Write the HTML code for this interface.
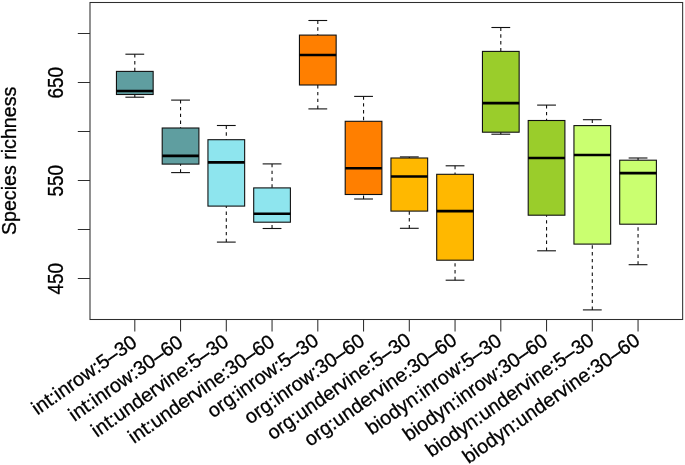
<!DOCTYPE html>
<html lang="en">
<head>
<meta charset="utf-8">
<title>Species richness boxplot</title>
<style>
html,body{margin:0;padding:0;background:#fff;}
body{width:685px;height:465px;overflow:hidden;}
svg{display:block;will-change:transform;}
svg text{font-family:"Liberation Sans",Arial,Helvetica,sans-serif;font-size:19.74px;fill:#000;stroke:#000;stroke-width:0.3px;}
</style>
</head>
<body>
<svg width="685" height="465" viewBox="0 0 685 465">
<rect x="0" y="0" width="685" height="465" fill="#ffffff"/>

<g stroke="#111" stroke-width="1.1" fill="none">
<line x1="134.80" y1="54.20" x2="134.80" y2="71.40" stroke-dasharray="3.4 3.4"/>
<line x1="134.80" y1="97.20" x2="134.80" y2="94.50" stroke-dasharray="3.4 3.4"/>
<line x1="125.40" y1="54.20" x2="144.20" y2="54.20"/>
<line x1="125.40" y1="97.20" x2="144.20" y2="97.20"/>
<rect x="116.45" y="71.40" width="36.70" height="23.10" fill="#5F9EA0"/>
<line x1="116.45" y1="91.00" x2="153.15" y2="91.00" stroke="#000" stroke-width="2.6"/>
<line x1="180.55" y1="100.10" x2="180.55" y2="128.00" stroke-dasharray="3.4 3.4"/>
<line x1="180.55" y1="172.60" x2="180.55" y2="164.10" stroke-dasharray="3.4 3.4"/>
<line x1="171.15" y1="100.10" x2="189.95" y2="100.10"/>
<line x1="171.15" y1="172.60" x2="189.95" y2="172.60"/>
<rect x="162.20" y="128.00" width="36.70" height="36.10" fill="#5F9EA0"/>
<line x1="162.20" y1="155.90" x2="198.90" y2="155.90" stroke="#000" stroke-width="2.6"/>
<line x1="226.30" y1="125.50" x2="226.30" y2="139.70" stroke-dasharray="3.4 3.4"/>
<line x1="226.30" y1="242.10" x2="226.30" y2="206.10" stroke-dasharray="3.4 3.4"/>
<line x1="216.90" y1="125.50" x2="235.70" y2="125.50"/>
<line x1="216.90" y1="242.10" x2="235.70" y2="242.10"/>
<rect x="207.95" y="139.70" width="36.70" height="66.40" fill="#8EE5EE"/>
<line x1="207.95" y1="162.40" x2="244.65" y2="162.40" stroke="#000" stroke-width="2.6"/>
<line x1="272.05" y1="163.90" x2="272.05" y2="187.90" stroke-dasharray="3.4 3.4"/>
<line x1="272.05" y1="228.50" x2="272.05" y2="222.20" stroke-dasharray="3.4 3.4"/>
<line x1="262.65" y1="163.90" x2="281.45" y2="163.90"/>
<line x1="262.65" y1="228.50" x2="281.45" y2="228.50"/>
<rect x="253.70" y="187.90" width="36.70" height="34.30" fill="#8EE5EE"/>
<line x1="253.70" y1="213.80" x2="290.40" y2="213.80" stroke="#000" stroke-width="2.6"/>
<line x1="317.80" y1="20.50" x2="317.80" y2="35.10" stroke-dasharray="3.4 3.4"/>
<line x1="317.80" y1="108.90" x2="317.80" y2="85.00" stroke-dasharray="3.4 3.4"/>
<line x1="308.40" y1="20.50" x2="327.20" y2="20.50"/>
<line x1="308.40" y1="108.90" x2="327.20" y2="108.90"/>
<rect x="299.45" y="35.10" width="36.70" height="49.90" fill="#FF7F00"/>
<line x1="299.45" y1="55.00" x2="336.15" y2="55.00" stroke="#000" stroke-width="2.6"/>
<line x1="363.55" y1="96.40" x2="363.55" y2="121.30" stroke-dasharray="3.4 3.4"/>
<line x1="363.55" y1="199.00" x2="363.55" y2="194.50" stroke-dasharray="3.4 3.4"/>
<line x1="354.15" y1="96.40" x2="372.95" y2="96.40"/>
<line x1="354.15" y1="199.00" x2="372.95" y2="199.00"/>
<rect x="345.20" y="121.30" width="36.70" height="73.20" fill="#FF7F00"/>
<line x1="345.20" y1="168.20" x2="381.90" y2="168.20" stroke="#000" stroke-width="2.6"/>
<line x1="409.30" y1="156.90" x2="409.30" y2="158.00" stroke-dasharray="3.4 3.4"/>
<line x1="409.30" y1="228.30" x2="409.30" y2="211.10" stroke-dasharray="3.4 3.4"/>
<line x1="399.90" y1="156.90" x2="418.70" y2="156.90"/>
<line x1="399.90" y1="228.30" x2="418.70" y2="228.30"/>
<rect x="390.95" y="158.00" width="36.70" height="53.10" fill="#FFB800"/>
<line x1="390.95" y1="176.50" x2="427.65" y2="176.50" stroke="#000" stroke-width="2.6"/>
<line x1="455.05" y1="165.80" x2="455.05" y2="174.30" stroke-dasharray="3.4 3.4"/>
<line x1="455.05" y1="280.20" x2="455.05" y2="260.20" stroke-dasharray="3.4 3.4"/>
<line x1="445.65" y1="165.80" x2="464.45" y2="165.80"/>
<line x1="445.65" y1="280.20" x2="464.45" y2="280.20"/>
<rect x="436.70" y="174.30" width="36.70" height="85.90" fill="#FFB800"/>
<line x1="436.70" y1="211.10" x2="473.40" y2="211.10" stroke="#000" stroke-width="2.6"/>
<line x1="500.80" y1="27.50" x2="500.80" y2="51.40" stroke-dasharray="3.4 3.4"/>
<line x1="500.80" y1="134.20" x2="500.80" y2="132.20" stroke-dasharray="3.4 3.4"/>
<line x1="491.40" y1="27.50" x2="510.20" y2="27.50"/>
<line x1="491.40" y1="134.20" x2="510.20" y2="134.20"/>
<rect x="482.45" y="51.40" width="36.70" height="80.80" fill="#9ACD2B"/>
<line x1="482.45" y1="103.10" x2="519.15" y2="103.10" stroke="#000" stroke-width="2.6"/>
<line x1="546.55" y1="105.10" x2="546.55" y2="120.50" stroke-dasharray="3.4 3.4"/>
<line x1="546.55" y1="250.80" x2="546.55" y2="215.20" stroke-dasharray="3.4 3.4"/>
<line x1="537.15" y1="105.10" x2="555.95" y2="105.10"/>
<line x1="537.15" y1="250.80" x2="555.95" y2="250.80"/>
<rect x="528.20" y="120.50" width="36.70" height="94.70" fill="#9ACD2B"/>
<line x1="528.20" y1="158.00" x2="564.90" y2="158.00" stroke="#000" stroke-width="2.6"/>
<line x1="592.30" y1="119.70" x2="592.30" y2="125.60" stroke-dasharray="3.4 3.4"/>
<line x1="592.30" y1="309.90" x2="592.30" y2="244.10" stroke-dasharray="3.4 3.4"/>
<line x1="582.90" y1="119.70" x2="601.70" y2="119.70"/>
<line x1="582.90" y1="309.90" x2="601.70" y2="309.90"/>
<rect x="573.95" y="125.60" width="36.70" height="118.50" fill="#CAFF70"/>
<line x1="573.95" y1="155.00" x2="610.65" y2="155.00" stroke="#000" stroke-width="2.6"/>
<line x1="638.05" y1="158.00" x2="638.05" y2="160.20" stroke-dasharray="3.4 3.4"/>
<line x1="638.05" y1="264.70" x2="638.05" y2="224.20" stroke-dasharray="3.4 3.4"/>
<line x1="628.65" y1="158.00" x2="647.45" y2="158.00"/>
<line x1="628.65" y1="264.70" x2="647.45" y2="264.70"/>
<rect x="619.70" y="160.20" width="36.70" height="64.00" fill="#CAFF70"/>
<line x1="619.70" y1="173.10" x2="656.40" y2="173.10" stroke="#000" stroke-width="2.6"/>
</g>
<g stroke="#2e2e2e" stroke-width="1.05" fill="none">
<rect x="90.0" y="2.5" width="592.65" height="317.0"/>
<line x1="77.8" y1="33.5" x2="90" y2="33.5"/>
<line x1="77.8" y1="82.5" x2="90" y2="82.5"/>
<line x1="77.8" y1="131.5" x2="90" y2="131.5"/>
<line x1="77.8" y1="180.5" x2="90" y2="180.5"/>
<line x1="77.8" y1="229.5" x2="90" y2="229.5"/>
<line x1="77.8" y1="278.5" x2="90" y2="278.5"/>
<line x1="134.80" y1="319.5" x2="134.80" y2="331.4"/>
<line x1="180.55" y1="319.5" x2="180.55" y2="331.4"/>
<line x1="226.30" y1="319.5" x2="226.30" y2="331.4"/>
<line x1="272.05" y1="319.5" x2="272.05" y2="331.4"/>
<line x1="317.80" y1="319.5" x2="317.80" y2="331.4"/>
<line x1="363.55" y1="319.5" x2="363.55" y2="331.4"/>
<line x1="409.30" y1="319.5" x2="409.30" y2="331.4"/>
<line x1="455.05" y1="319.5" x2="455.05" y2="331.4"/>
<line x1="500.80" y1="319.5" x2="500.80" y2="331.4"/>
<line x1="546.55" y1="319.5" x2="546.55" y2="331.4"/>
<line x1="592.30" y1="319.5" x2="592.30" y2="331.4"/>
<line x1="638.05" y1="319.5" x2="638.05" y2="331.4"/>
</g>
<text transform="translate(62.6 82.8) rotate(-90) scale(0.955 1.08)" text-anchor="middle">650</text>
<text transform="translate(62.6 180.8) rotate(-90) scale(0.955 1.08)" text-anchor="middle">550</text>
<text transform="translate(62.6 278.8) rotate(-90) scale(0.955 1.08)" text-anchor="middle">450</text>
<text transform="translate(15.7 160.9) rotate(-90) scale(0.9954 1.04)" text-anchor="middle">Species richness</text>
<text transform="translate(138.18 345.12) rotate(-35)" text-anchor="end">int:inrow:5–30</text>
<text transform="translate(184.18 345.12) rotate(-35)" text-anchor="end">int:inrow:30–60</text>
<text transform="translate(230.08 344.52) rotate(-35)" text-anchor="end">int:undervine:5–30</text>
<text transform="translate(276.08 344.64) rotate(-35)" text-anchor="end">int:undervine:30–60</text>
<text transform="translate(319.98 343.55) rotate(-35)" text-anchor="end">org:inrow:5–30</text>
<text transform="translate(365.98 343.61) rotate(-35)" text-anchor="end">org:inrow:30–60</text>
<text transform="translate(412.18 342.89) rotate(-35)" text-anchor="end">org:undervine:5–30</text>
<text transform="translate(458.18 343.07) rotate(-35)" text-anchor="end">org:undervine:30–60</text>
<text transform="translate(502.98 343.61) rotate(-35)" text-anchor="end">biodyn:inrow:5–30</text>
<text transform="translate(548.98 343.61) rotate(-35)" text-anchor="end">biodyn:inrow:30–60</text>
<text transform="translate(595.18 343.19) rotate(-35)" text-anchor="end">biodyn:undervine:5–30</text>
<text transform="translate(641.18 343.31) rotate(-35)" text-anchor="end">biodyn:undervine:30–60</text>
</svg>
</body>
</html>
